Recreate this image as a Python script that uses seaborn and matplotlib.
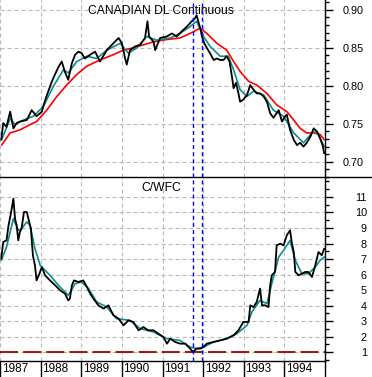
import numpy as np
import pandas as pd
import matplotlib
matplotlib.use("Agg")
import matplotlib.pyplot as plt
import matplotlib.transforms as mtransforms
from matplotlib.lines import Line2D
from matplotlib.ticker import MultipleLocator
import seaborn as sns

# ---------------- data ----------------
cad_year = [1987.03, 1987.08, 1987.16, 1987.25, 1987.33, 1987.41, 1987.49, 1987.66, 1987.78, 1987.90,
            1988.03, 1988.11, 1988.23, 1988.31, 1988.44, 1988.52, 1988.60, 1988.68, 1988.77, 1988.85,
            1988.93, 1989.01, 1989.09, 1989.22, 1989.34, 1989.46, 1989.63, 1989.79, 1989.92, 1990.00,
            1990.08, 1990.12, 1990.20, 1990.33, 1990.45, 1990.57, 1990.63, 1990.67, 1990.78, 1990.82,
            1990.94, 1991.11, 1991.23, 1991.35, 1991.48, 1991.60, 1991.72, 1991.80, 1991.84, 1991.89,
            1991.93, 1991.97, 1992.03, 1992.09, 1992.17, 1992.26, 1992.34, 1992.42, 1992.50, 1992.58,
            1992.65, 1992.71, 1992.75, 1992.81, 1992.87, 1992.91, 1992.99, 1993.08, 1993.16, 1993.24,
            1993.32, 1993.40, 1993.49, 1993.57, 1993.65, 1993.73, 1993.81, 1993.86, 1993.94, 1994.02,
            1994.06, 1994.14, 1994.23, 1994.31, 1994.39, 1994.47, 1994.55, 1994.64, 1994.72, 1994.80,
            1994.88, 1994.95, 1994.98]
cad_value = [0.729, 0.751, 0.746, 0.766, 0.744, 0.751, 0.753, 0.755, 0.768, 0.760,
             0.766, 0.781, 0.799, 0.810, 0.825, 0.832, 0.818, 0.808, 0.830, 0.841,
             0.845, 0.843, 0.836, 0.841, 0.845, 0.832, 0.847, 0.856, 0.863, 0.856,
             0.836, 0.828, 0.847, 0.852, 0.854, 0.863, 0.885, 0.865, 0.858, 0.847,
             0.863, 0.865, 0.869, 0.865, 0.872, 0.878, 0.885, 0.889, 0.893, 0.883,
             0.876, 0.865, 0.856, 0.850, 0.843, 0.834, 0.836, 0.834, 0.834, 0.839,
             0.832, 0.812, 0.797, 0.804, 0.790, 0.779, 0.782, 0.788, 0.801, 0.795,
             0.790, 0.790, 0.786, 0.779, 0.764, 0.758, 0.764, 0.768, 0.753, 0.760,
             0.762, 0.742, 0.729, 0.722, 0.725, 0.720, 0.725, 0.733, 0.744, 0.740,
             0.731, 0.720, 0.711]

cad_ma_short_year = [1987.04, 1987.25, 1987.37, 1987.58, 1987.82, 1988.07, 1988.31, 1988.56, 1988.68, 1988.89,
                     1989.14, 1989.38, 1989.63, 1989.96, 1990.16, 1990.37, 1990.61, 1990.86, 1991.19, 1991.43,
                     1991.68, 1991.84, 1992.01, 1992.17, 1992.42, 1992.62, 1992.75, 1992.91, 1993.08, 1993.24,
                     1993.49, 1993.73, 1993.98, 1994.23, 1994.47, 1994.68, 1994.80, 1994.98]
cad_ma_short = [0.729, 0.757, 0.749, 0.755, 0.760, 0.773, 0.799, 0.821, 0.817, 0.832,
                0.839, 0.836, 0.847, 0.856, 0.843, 0.850, 0.865, 0.860, 0.863, 0.869,
                0.878, 0.885, 0.865, 0.852, 0.839, 0.839, 0.821, 0.795, 0.786, 0.793,
                0.788, 0.768, 0.760, 0.738, 0.725, 0.738, 0.740, 0.720]

cad_ma_long_year = [1987.04, 1987.25, 1987.49, 1987.74, 1987.90, 1988.15, 1988.40, 1988.64, 1988.89, 1989.14,
                    1989.46, 1989.79, 1990.04, 1990.28, 1990.53, 1990.78, 1991.11, 1991.43, 1991.68, 1991.93,
                    1992.09, 1992.34, 1992.58, 1992.75, 1992.91, 1993.12, 1993.32, 1993.57, 1993.81, 1994.06,
                    1994.23, 1994.39, 1994.55, 1994.72, 1994.88, 1994.98]
cad_ma_long = [0.722, 0.738, 0.742, 0.749, 0.753, 0.768, 0.786, 0.801, 0.815, 0.826,
               0.834, 0.841, 0.847, 0.850, 0.854, 0.858, 0.861, 0.863, 0.869, 0.876,
               0.869, 0.856, 0.847, 0.832, 0.819, 0.806, 0.801, 0.790, 0.775, 0.766,
               0.755, 0.744, 0.738, 0.738, 0.736, 0.729]

cwfc_year = [1987.03, 1987.08, 1987.16, 1987.21, 1987.26, 1987.33, 1987.37, 1987.41, 1987.45, 1987.49,
             1987.53, 1987.59, 1987.66, 1987.70, 1987.76, 1987.81, 1987.86, 1987.90, 1987.97, 1988.03,
             1988.11, 1988.23, 1988.36, 1988.48, 1988.60, 1988.68, 1988.72, 1988.77, 1988.82, 1988.93,
             1989.05, 1989.14, 1989.22, 1989.30, 1989.42, 1989.55, 1989.67, 1989.79, 1989.92, 1990.04,
             1990.16, 1990.28, 1990.41, 1990.53, 1990.65, 1990.78, 1990.90, 1991.02, 1991.11, 1991.19,
             1991.31, 1991.43, 1991.56, 1991.68, 1991.75, 1991.84, 1991.93, 1992.01, 1992.09, 1992.26,
             1992.42, 1992.58, 1992.75, 1992.87, 1992.99, 1993.12, 1993.16, 1993.24, 1993.32, 1993.40,
             1993.45, 1993.53, 1993.61, 1993.65, 1993.69, 1993.77, 1993.81, 1993.90, 1993.98, 1994.06,
             1994.14, 1994.18, 1994.23, 1994.27, 1994.35, 1994.43, 1994.51, 1994.59, 1994.68, 1994.76,
             1994.84, 1994.92, 1994.98]
cwfc_value = [7.02, 8.10, 8.20, 9.17, 9.82, 10.89, 9.60, 9.17, 8.20, 8.74,
              8.96, 10.03, 10.03, 9.60, 8.96, 7.24, 6.59, 5.62, 6.05, 6.48,
              5.95, 5.62, 5.30, 4.98, 4.76, 4.33, 4.44, 5.30, 5.62, 5.52,
              5.62, 5.19, 4.76, 4.44, 4.01, 3.80, 4.01, 3.37, 3.15, 2.72,
              3.04, 2.94, 2.40, 2.61, 2.40, 2.40, 2.18, 1.97, 1.54, 1.86,
              1.65, 1.54, 1.54, 1.22, 1.00, 1.22, 1.22, 1.32, 1.54, 1.65,
              1.75, 1.86, 2.08, 2.40, 2.94, 2.94, 4.01, 3.90, 4.23, 5.09,
              4.01, 4.01, 3.90, 5.30, 5.95, 6.16, 7.88, 7.99, 7.88, 8.53,
              8.85, 8.10, 7.45, 6.16, 5.95, 6.05, 6.16, 6.16, 5.84, 6.59,
              7.45, 7.24, 7.67]

cwfc_ma_year = [1987.03, 1987.16, 1987.33, 1987.45, 1987.53, 1987.66, 1987.74, 1987.86, 1987.99, 1988.23,
                1988.44, 1988.68, 1988.85, 1989.01, 1989.18, 1989.38, 1989.63, 1989.87, 1990.20, 1990.45,
                1990.78, 1991.11, 1991.43, 1991.68, 1991.84, 1992.01, 1992.26, 1992.58, 1992.83, 1993.08,
                1993.20, 1993.40, 1993.57, 1993.69, 1993.86, 1993.98, 1994.14, 1994.27, 1994.43, 1994.59,
                1994.76, 1994.88, 1994.98]
cwfc_ma = [6.91, 7.77, 9.60, 8.85, 8.96, 9.39, 9.17, 7.67, 6.59, 5.95,
           5.30, 4.66, 5.41, 5.52, 5.09, 4.23, 3.90, 3.15, 3.04, 2.51,
           2.29, 1.86, 1.75, 1.32, 1.22, 1.32, 1.65, 1.86, 2.18, 2.72,
           3.58, 4.33, 4.12, 5.41, 7.13, 7.56, 8.20, 6.91, 6.05, 6.05,
           6.48, 6.91, 7.13]

event_years = [1991.74, 1991.96]
baseline_level = 1
year_ticks = [1987, 1988, 1989, 1990, 1991, 1992, 1993, 1994, 1995]
year_labels = ["1987", "1988", "1989", "1990", "1991", "1992", "1993", "1994"]
top_title = "CANADIAN DL Continuous"
bottom_title = "C/WFC"

# ---------------- style ----------------
sns.set_theme(style="white")
plt.rcParams["font.family"] = ["Liberation Sans", "DejaVu Sans"]
plt.rcParams["axes.linewidth"] = 1.0

W, H = 372, 377
fig = plt.figure(figsize=(W / 100, H / 100), dpi=100)
fig.patch.set_facecolor("white")

left = 0.0
right_px = 325
sep_px = 177
bot_px = 361
ax1 = fig.add_axes([left, 1 - sep_px / H, right_px / W, sep_px / H])
ax2 = fig.add_axes([left, 1 - bot_px / H, right_px / W, (bot_px - sep_px) / H], sharex=ax1)

grid_kw = dict(color="#b8b8b8", linestyle=(0, (3.6, 2.7)), linewidth=0.8)
black = "#000000"
teal = "#108a8a"
red = "#ff0000"

for ax in (ax1, ax2):
    ax.set_facecolor("white")
    for s in ("left", "top", "bottom"):
        ax.spines[s].set_visible(False)
    ax.spines["right"].set_color("black")
    ax.yaxis.tick_right()
    ax.set_xticks(year_ticks)
    ax.grid(True, which="major", **grid_kw)
    ax.set_axisbelow(True)

ax1.set_xlim(1987.0, 1995.0)

# ---- top panel ----
sns.lineplot(x=cad_ma_long_year, y=cad_ma_long, ax=ax1, color=red, lw=1.2, estimator=None, sort=False)
sns.lineplot(x=cad_ma_short_year, y=cad_ma_short, ax=ax1, color=teal, lw=1.2, estimator=None, sort=False)
sns.lineplot(x=cad_year, y=cad_value, ax=ax1, color=black, lw=1.3, estimator=None, sort=False)
ax1.set_ylim(0.680, 0.913)
ax1.yaxis.set_major_locator(MultipleLocator(0.05))
ax1.yaxis.set_minor_locator(MultipleLocator(0.01))
ax1.set_yticklabels([])
ax1.yaxis.set_major_formatter(matplotlib.ticker.FormatStrFormatter("%.2f"))
ax1.tick_params(axis="y", which="major", length=5.5, width=1, color="black", direction="out",
                labelsize=7.8, pad=7.4, labelcolor="black", right=True, left=False)
ax1.tick_params(axis="y", which="minor", length=3, width=1, color="black", direction="out", right=True, left=False)
ax1.tick_params(axis="x", which="both", length=0, labelbottom=False, bottom=False)
ax1.text(0.495, 0.938, top_title, transform=ax1.transAxes, ha="center", va="center", fontsize=8.7, color="black")
ax1.set_xlabel("")
ax1.set_ylabel("")

# ---- bottom panel ----
ax2.axhline(baseline_level, color="#a00000", lw=1.3, linestyle=(0, (10, 2.8)), zorder=1.5)
sns.lineplot(x=cwfc_ma_year, y=cwfc_ma, ax=ax2, color=teal, lw=1.2, estimator=None, sort=False)
sns.lineplot(x=cwfc_year, y=cwfc_value, ax=ax2, color=black, lw=1.3, estimator=None, sort=False)
ax2.set_ylim(0.42, 12.29)
ax2.yaxis.set_major_locator(MultipleLocator(1))
ax2.yaxis.set_minor_locator(MultipleLocator(0.5))
ax2.set_yticks(range(1, 12))
ax2.set_yticklabels([str(v) for v in range(1, 12)])
ax2.tick_params(axis="y", which="major", length=5.5, width=1, color="black", direction="out",
                labelsize=7.8, pad=24.7, labelcolor="black", right=True, left=False)
ax2.tick_params(axis="y", which="minor", length=3, width=1, color="black", direction="out", right=True, left=False)
for lab in ax2.get_yticklabels():
    lab.set_horizontalalignment("right")
ax2.spines["bottom"].set_visible(True)
ax2.spines["bottom"].set_color("black")
ax2.tick_params(axis="x", which="major", length=11.5, width=1, color="black", direction="out",
                labelbottom=False, bottom=True)
ax2.text(0.495, 0.94, bottom_title, transform=ax2.transAxes, ha="center", va="center", fontsize=8.7, color="black")
trans = mtransforms.blended_transform_factory(ax2.transData, ax2.transAxes)
for yr, lab in zip(year_ticks, year_labels):
    ax2.text(yr + 0.04, -0.043, lab, transform=trans, ha="left", va="center", fontsize=8.5,
             color="black", clip_on=False)
ax2.set_xlabel("")
ax2.set_ylabel("")

# ---- event lines ----
for ax in (ax1, ax2):
    for ev in event_years:
        ax.axvline(ev, color="#0000ff", lw=1.0, linestyle=(0, (2.9, 2.2)), zorder=3)

# separator between panels, across full width
fig.add_artist(Line2D([0, 1], [1 - sep_px / H, 1 - sep_px / H], transform=fig.transFigure,
                      color="black", lw=1.0))

fig.savefig("out.png", dpi=100, facecolor="white")
